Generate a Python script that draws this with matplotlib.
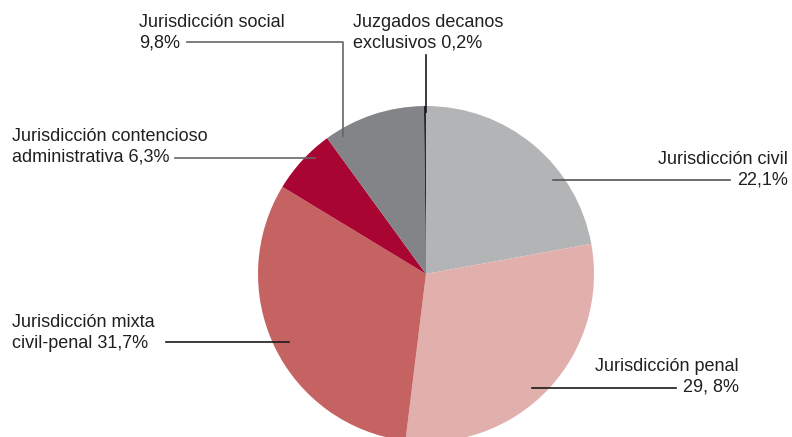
import matplotlib
matplotlib.use("Agg")
import matplotlib.pyplot as plt

categories = ["Jurisdicción civil", "Jurisdicción penal", "Jurisdicción mixta civil-penal",
              "Jurisdicción contencioso administrativa", "Jurisdicción social",
              "Juzgados decanos exclusivos"]
values = [22.1, 29.8, 31.7, 6.3, 9.8, 0.2]
colors = ["#b3b4b6", "#e1afac", "#c56362", "#a90533", "#838488", "#2a2a2a"]
label_texts = ["Jurisdicción civil\n22,1%", "Jurisdicción penal\n29, 8%",
               "Jurisdicción mixta\ncivil-penal 31,7%",
               "Jurisdicción contencioso\nadministrativa 6,3%",
               "Jurisdicción social\n9,8%", "Juzgados decanos\nexclusivos 0,2%"]

W, H = 792, 437
fig = plt.figure(figsize=(W / 100, H / 100), dpi=100)
ax = fig.add_axes([0, 0, 1, 1])

def Y(py):
    return H - py

cx, cy, r = 426, 274, 168
ax.pie(values, colors=colors, startangle=90, counterclock=False,
       center=(cx, Y(cy)), radius=r, wedgeprops=dict(linewidth=0))
ax.set_xlim(0, W)
ax.set_ylim(0, H)
ax.set_aspect("equal")
ax.axis("off")

plt.rcParams["font.family"] = ["Liberation Sans", "DejaVu Sans"]
tc = "#231f20"
fs = 13
ls = 1.27

# label layout: (x, y_center_of_block, ha)
layout = [
    (788, 170, "right"),
    (739, 377, "right"),
    (12, 333, "left"),
    (12, 147, "left"),
    (139, 33, "left"),
    (353, 33, "left"),
]
for (x, y, ha), t in zip(layout, label_texts):
    ax.text(x, Y(y), t, ha=ha, va="center", fontsize=fs, color=tc,
            linespacing=ls, family=["Liberation Sans", "DejaVu Sans"])

# leader lines (layout only)
lw = 1.2
ax.plot([553, 730], [Y(179.5), Y(179.5)], color="#555555", lw=lw)
ax.plot([532, 676], [Y(388), Y(388)], color="#1a1a1a", lw=lw)
ax.plot([166, 289], [Y(342), Y(342)], color="#1a1a1a", lw=lw)
ax.plot([175, 315], [Y(158), Y(158)], color="#666666", lw=lw)
ax.plot([187, 343, 343], [Y(42), Y(42), Y(136)], color="#666666", lw=lw)
ax.plot([426, 426], [Y(55), Y(112)], color="#1a1a1a", lw=lw)

fig.savefig("out.png", dpi=100)
